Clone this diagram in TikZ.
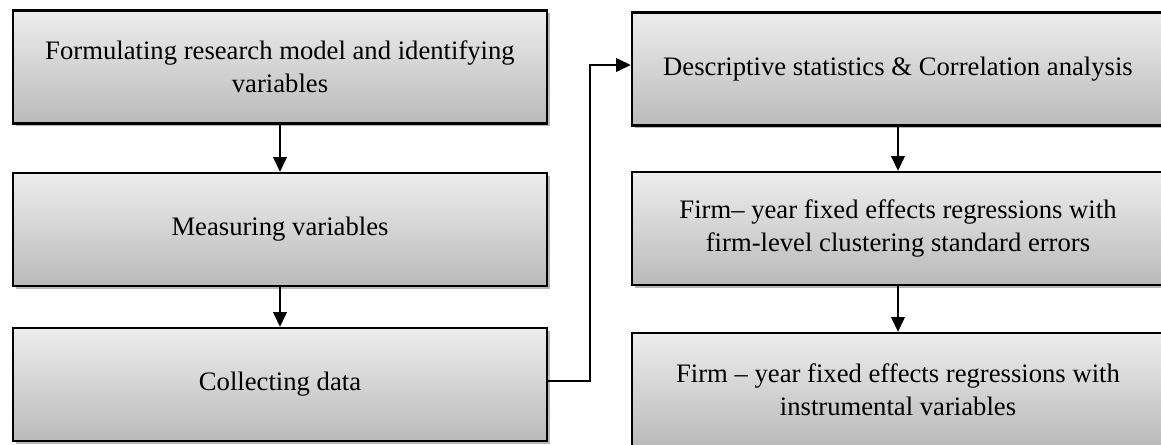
\documentclass[tikz,border=0pt]{standalone}
\usepackage{fontspec}
\setmainfont{Liberation Serif}
\usetikzlibrary{shadows,arrows.meta}
\tikzset{
  stepbox/.style={draw=black, line width=1.7pt, rectangle, top color=black!7, bottom color=black!27,
    minimum width=400.5pt, minimum height=84.75pt, align=center, inner sep=0pt,
    font=\fontsize{20}{24.5}\selectfont,
    drop shadow={shadow xshift=2.2pt, shadow yshift=-2.2pt, opacity=0.28, fill=black}},
  arr/.style={draw=black, line width=1.7pt, -{Triangle[width=10pt,length=11pt]}}
}
\begin{document}
\begin{tikzpicture}[x=0.75pt,y=-0.75pt]
\clip (0,0) rectangle (1161,444);
\fill[white] (0,0) rectangle (1161,444);
\node[stepbox] (b1) at (280,67) {Formulating research model and identifying\\variables};
\node[stepbox] (b2) at (280,229.5) {Measuring variables};
\node[stepbox] (b3) at (280,384.5) {Collecting data};
\node[stepbox, minimum width=399pt] (b4) at (898,69) {Descriptive statistics \& Correlation analysis};
\node[stepbox, minimum width=399pt] (b5) at (898,228.5) {Firm– year fixed effects regressions with\\firm-level clustering standard errors};
\node[stepbox, minimum width=399pt] (b6) at (898,389.5) {Firm – year fixed effects regressions with\\instrumental variables};
\draw[arr] (b1.south) -- (b2.north);
\draw[arr] (b2.south) -- (b3.north);
\draw[arr] (b4.south) -- (b5.north);
\draw[arr] (b5.south) -- (b6.north);
\draw[arr] ([yshift=2.5pt]b3.east) -- ++(42,0) |- ([yshift=3pt]b4.west);
\end{tikzpicture}
\end{document}
